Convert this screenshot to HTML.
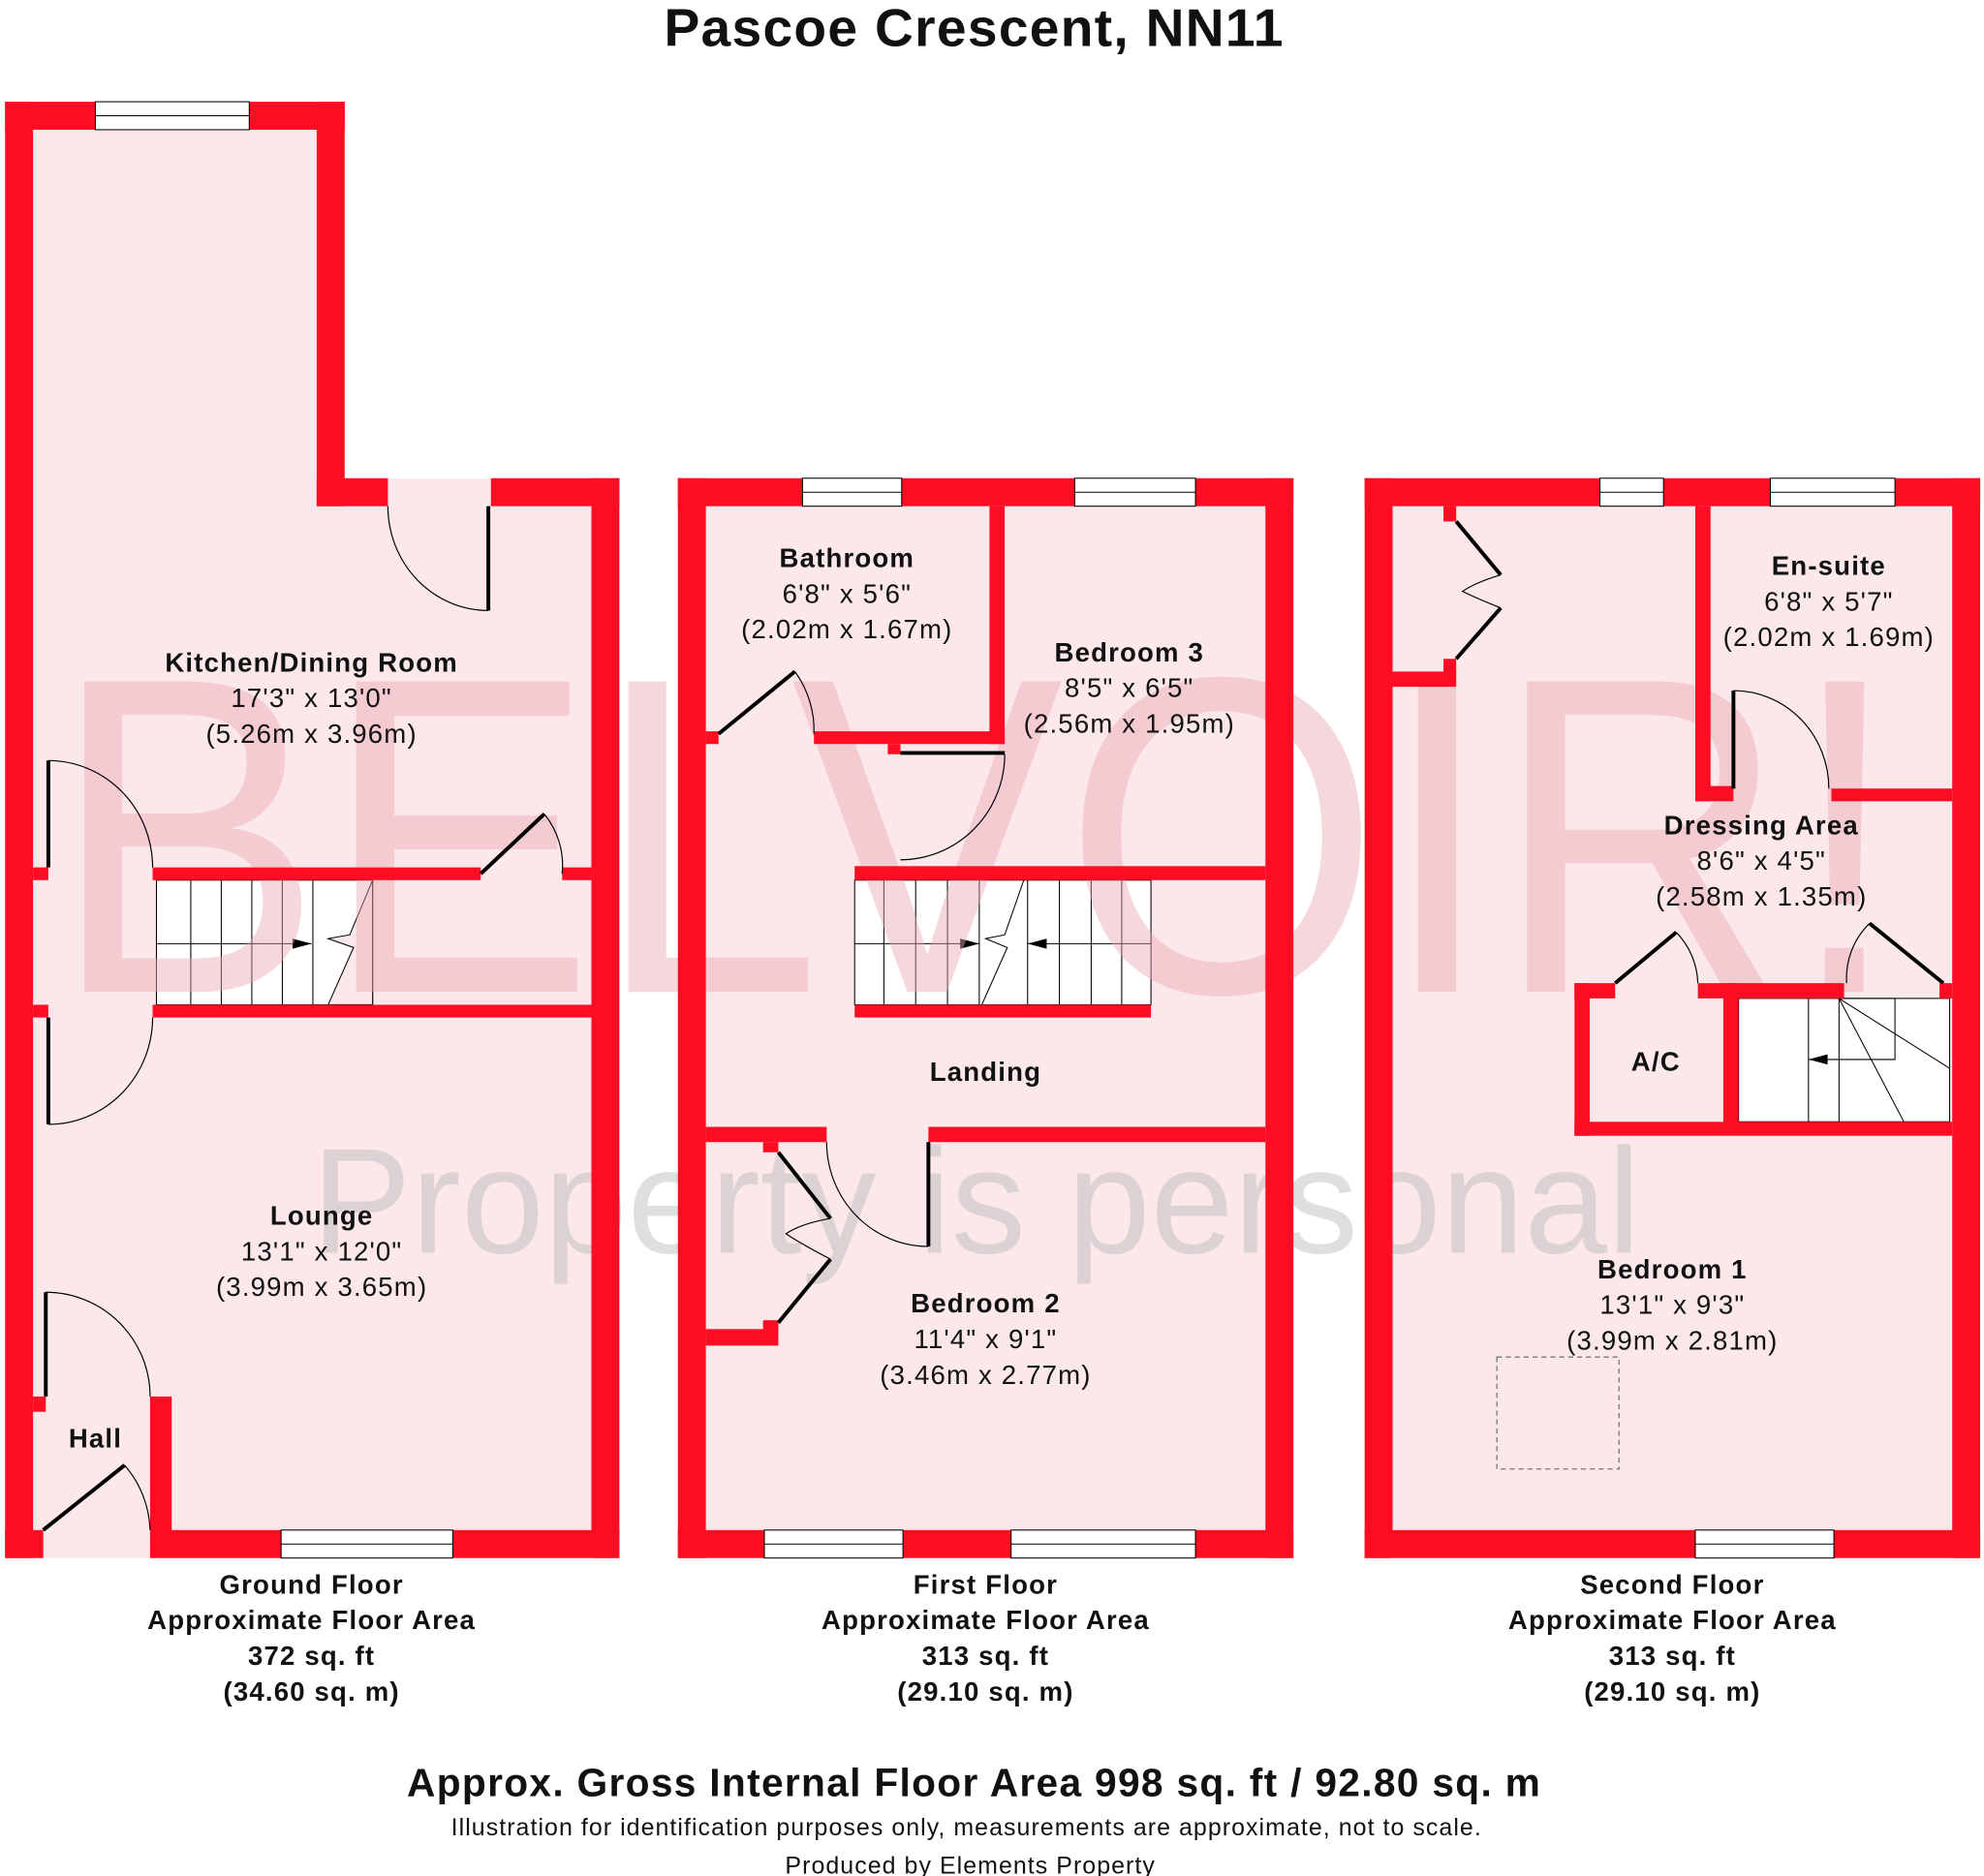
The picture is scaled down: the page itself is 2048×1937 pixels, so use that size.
<!DOCTYPE html>
<html><head><meta charset="utf-8"><style>
html,body{margin:0;padding:0;background:#fff;}
svg{display:block;}
text{font-family:"Liberation Sans",Arial,sans-serif;}
</style></head><body>
<svg width="2048" height="1937" viewBox="0 0 1560 1475" preserveAspectRatio="none" xmlns="http://www.w3.org/2000/svg">
<rect width="1560" height="1475" fill="#fff"/>
<g fill="#fce8ea">
<path d="M4 80 H271 V376 H487 V1225 H4 Z"/>
<rect x="533" y="376" width="484" height="849"/>
<rect x="1073" y="376" width="484" height="849"/>
</g>
<g fill="#fff" stroke="#000" stroke-width="0.8">
<rect x="123" y="692" width="170" height="98"/>
<rect x="672" y="692" width="233" height="98"/>
<rect x="1367" y="785" width="166" height="97"/>
</g>
<g stroke="#000" stroke-width="0.8" fill="none">
<path d="M150 692V790M174 692V790M198 692V790M222 692V790M246 692V790M123 742H245"/>
<path d="M695 692V790M720 692V790M745 692V790M770 692V790M808 692V790M833 692V790M858 692V790M882 692V790M672 742H770M808 742H905"/>
<path d="M1422 785V882M1446 785V882M1446 785H1490V833H1422M1446 785L1533 840M1446 785L1497 882"/>
</g>
<g fill="#000">
<polygon points="245,742 230,738 230,746"/>
<polygon points="770,742 755,738 755,746"/>
<polygon points="808,742 823,738 823,746"/>
<polygon points="1422,833 1437,829 1437,837"/>
</g>
<path d="M293 692 L275 735 L258 738 L278 745 L258 790 L293 790 Z" fill="#fce8ea" stroke="#000" stroke-width="0.8"/>
<g stroke="#000" stroke-width="0.8" fill="none">
<path d="M805 692 L790 735 L775 738 L792 745 L772 790"/>
</g>
<text x="40" y="780" font-size="355" fill="#e8a8b2" fill-opacity="0.45" textLength="1455" lengthAdjust="spacingAndGlyphs">BELVOIR!</text>
<text x="245" y="985" font-size="118" fill="#b8b8b8" fill-opacity="0.45" textLength="1045" lengthAdjust="spacingAndGlyphs">Property is personal</text>
<g fill="#fd0d24">
<rect x="4" y="80" width="22" height="1145"/>
<rect x="4" y="80" width="267" height="22"/>
<rect x="249" y="80" width="22" height="318"/>
<rect x="249" y="376" width="56" height="22"/>
<rect x="386" y="376" width="101" height="22"/>
<rect x="465" y="376" width="22" height="849"/>
<rect x="118" y="1203" width="369" height="22"/>
<rect x="4" y="1203" width="30" height="22"/>
<rect x="118" y="1098" width="17" height="110"/>
<rect x="26" y="1098" width="10" height="12"/>
<rect x="120" y="682" width="258" height="10"/>
<rect x="442" y="682" width="23" height="10"/>
<rect x="26" y="682" width="12" height="10"/>
<rect x="120" y="790" width="345" height="10"/>
<rect x="26" y="790" width="12" height="10"/>
<rect x="533" y="376" width="484" height="22"/>
<rect x="533" y="376" width="22" height="849"/>
<rect x="995" y="376" width="22" height="849"/>
<rect x="533" y="1203" width="484" height="22"/>
<rect x="778" y="398" width="12" height="187"/>
<rect x="640" y="575" width="150" height="10"/>
<rect x="555" y="575" width="10" height="10"/>
<rect x="698" y="585" width="10" height="8"/>
<rect x="672" y="681" width="323" height="11"/>
<rect x="672" y="790" width="233" height="10"/>
<rect x="555" y="886" width="95" height="12"/>
<rect x="730" y="886" width="265" height="12"/>
<rect x="600" y="898" width="12" height="8"/>
<rect x="555" y="1045" width="57" height="13"/>
<rect x="600" y="1038" width="12" height="10"/>
<rect x="1073" y="376" width="484" height="22"/>
<rect x="1073" y="376" width="22" height="849"/>
<rect x="1535" y="376" width="22" height="849"/>
<rect x="1073" y="1203" width="484" height="22"/>
<rect x="1095" y="528" width="50" height="12"/>
<rect x="1135" y="398" width="10" height="12"/>
<rect x="1135" y="518" width="10" height="12"/>
<rect x="1333" y="398" width="12" height="232"/>
<rect x="1333" y="618" width="30" height="12"/>
<rect x="1440" y="620" width="95" height="10"/>
<rect x="1238" y="773" width="32" height="12"/>
<rect x="1238" y="773" width="12" height="120"/>
<rect x="1238" y="882" width="297" height="11"/>
<rect x="1355" y="773" width="12" height="115"/>
<rect x="1335" y="773" width="115" height="12"/>
<rect x="1525" y="773" width="10" height="12"/>
</g>
<g fill="#fff" stroke="#000" stroke-width="0.8">
<rect x="75" y="80" width="121" height="22"/><line x1="75" y1="91" x2="196" y2="91"/>
<rect x="221" y="1203" width="135" height="22"/><line x1="221" y1="1214" x2="356" y2="1214"/>
<rect x="631" y="376" width="78" height="22"/><line x1="631" y1="387" x2="709" y2="387"/>
<rect x="845" y="376" width="95" height="22"/><line x1="845" y1="387" x2="940" y2="387"/>
<rect x="601" y="1203" width="109" height="22"/><line x1="601" y1="1214" x2="710" y2="1214"/>
<rect x="795" y="1203" width="145" height="22"/><line x1="795" y1="1214" x2="940" y2="1214"/>
<rect x="1258" y="376" width="50" height="22"/><line x1="1258" y1="387" x2="1308" y2="387"/>
<rect x="1392" y="376" width="98" height="22"/><line x1="1392" y1="387" x2="1490" y2="387"/>
<rect x="1333" y="1203" width="109" height="22"/><line x1="1333" y1="1214" x2="1442" y2="1214"/>
</g>
<g fill="none" stroke="#000">
<g stroke-width="3">
<path d="M38 598V682M38 800V884M36 1016V1098M34 1203L98 1152M384 398V480M378 687L428 640"/>
<path d="M565 577L625 528M708 592H790M730 898V980"/>
<path d="M612 906L653 958M612 1040L653 990"/>
<path d="M1145 410L1180 452M1145 518L1180 478"/>
<path d="M1363 543V620M1270 773L1318 733M1528 773L1470 726"/>
</g>
<g stroke-width="0.9">
<path d="M38 598 A82 84 0 0 1 120 682"/>
<path d="M120 800 A82 84 0 0 1 38 884"/>
<path d="M36 1016 A82 82 0 0 1 118 1098"/>
<path d="M98 1152 A82 82 0 0 1 118 1203"/>
<path d="M305 398 A79 82 0 0 0 384 480"/>
<path d="M428 640 A64 64 0 0 1 442 687"/>
<path d="M625 528 A78 78 0 0 1 640 577"/>
<path d="M790 593 A82 83 0 0 1 708 676"/>
<path d="M650 898 A80 82 0 0 0 730 980"/>
<path d="M653 958 Q630 962 618 970 Q630 978 653 990"/>
<path d="M1180 452 Q1160 458 1150 465 Q1160 470 1180 478"/>
<path d="M1363 543 A75 77 0 0 1 1438 620"/>
<path d="M1318 733 A60 60 0 0 1 1335 773"/>
<path d="M1470 726 A60 60 0 0 0 1452 773"/>
</g>
</g>
<rect x="1177" y="1067" width="96" height="88" fill="none" stroke="#777" stroke-width="1" stroke-dasharray="4,3"/>
<g font-size="21" fill="#111" text-anchor="middle" letter-spacing="0.9">
<text x="766" y="36" font-size="42" font-weight="bold" letter-spacing="1">Pascoe Crescent, NN11</text>
<text x="245" y="528" font-weight="bold">Kitchen/Dining Room</text>
<text x="245" y="556">17'3" x 13'0"</text>
<text x="245" y="584">(5.26m x 3.96m)</text>
<text x="253" y="963" font-weight="bold">Lounge</text>
<text x="253" y="991">13'1" x 12'0"</text>
<text x="253" y="1019">(3.99m x 3.65m)</text>
<text x="75" y="1138" font-weight="bold">Hall</text>
<text x="666" y="446" font-weight="bold">Bathroom</text>
<text x="666" y="474">6'8" x 5'6"</text>
<text x="666" y="502">(2.02m x 1.67m)</text>
<text x="888" y="520" font-weight="bold">Bedroom 3</text>
<text x="888" y="548">8'5" x 6'5"</text>
<text x="888" y="576">(2.56m x 1.95m)</text>
<text x="775" y="850" font-weight="bold">Landing</text>
<text x="775" y="1032" font-weight="bold">Bedroom 2</text>
<text x="775" y="1060">11'4" x 9'1"</text>
<text x="775" y="1088">(3.46m x 2.77m)</text>
<text x="1438" y="452" font-weight="bold">En-suite</text>
<text x="1438" y="480">6'8" x 5'7"</text>
<text x="1438" y="508">(2.02m x 1.69m)</text>
<text x="1385" y="656" font-weight="bold">Dressing Area</text>
<text x="1385" y="684">8'6" x 4'5"</text>
<text x="1385" y="712">(2.58m x 1.35m)</text>
<text x="1302" y="842" font-weight="bold">A/C</text>
<text x="1315" y="1005" font-weight="bold">Bedroom 1</text>
<text x="1315" y="1033">13'1" x 9'3"</text>
<text x="1315" y="1061">(3.99m x 2.81m)</text>
<g font-weight="bold">
<text x="245" y="1253">Ground Floor</text>
<text x="245" y="1281">Approximate Floor Area</text>
<text x="245" y="1309">372 sq. ft</text>
<text x="245" y="1337">(34.60 sq. m)</text>
<text x="775" y="1253">First Floor</text>
<text x="775" y="1281">Approximate Floor Area</text>
<text x="775" y="1309">313 sq. ft</text>
<text x="775" y="1337">(29.10 sq. m)</text>
<text x="1315" y="1253">Second Floor</text>
<text x="1315" y="1281">Approximate Floor Area</text>
<text x="1315" y="1309">313 sq. ft</text>
<text x="1315" y="1337">(29.10 sq. m)</text>
<text x="766" y="1412" font-size="31" letter-spacing="1">Approx. Gross Internal Floor Area 998 sq. ft / 92.80 sq. m</text>
</g>
<text x="760" y="1443" font-size="19" letter-spacing="0.8">Illustration for identification purposes only, measurements are approximate, not to scale.</text>
<text x="763" y="1473" font-size="19" letter-spacing="0.8">Produced by Elements Property</text>
</g>
</svg>
</body></html>
